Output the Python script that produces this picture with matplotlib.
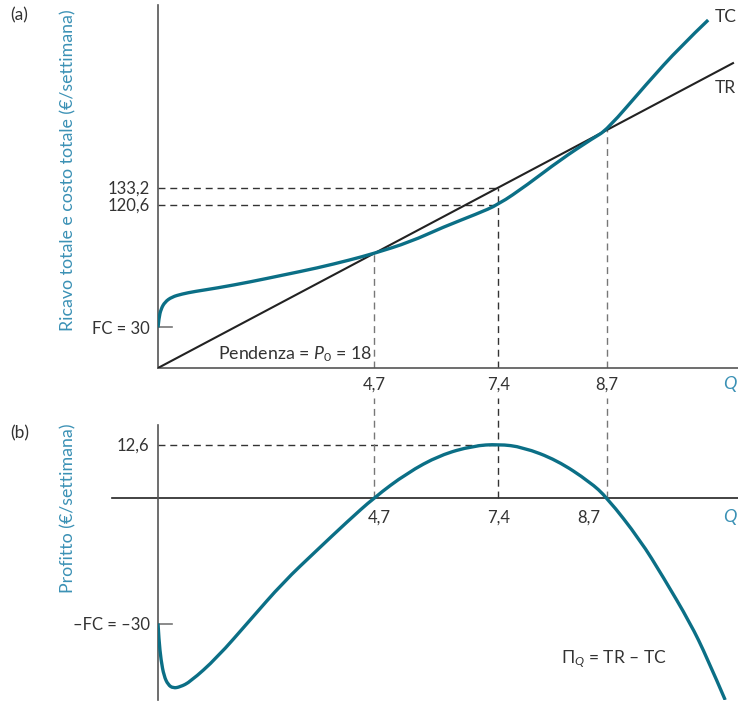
import numpy as np
import matplotlib.pyplot as plt
from matplotlib.path import Path
from matplotlib.patches import PathPatch

plt.rcParams['font.family'] = ['Lato', 'DejaVu Sans']
plt.rcParams['mathtext.fontset'] = 'custom'
plt.rcParams['mathtext.rm'] = 'Lato'
plt.rcParams['mathtext.it'] = 'Lato:italic'

# valori (il disegno non e' in scala: "8,7" sta dove TR = TC)
q_tc = [0, 0.02, 0.065, 0.15, 0.30, 0.52, 0.80, 1.28, 2.0, 2.72, 3.46, 4.17, 4.70,
        5.48, 6.20, 6.93, 7.40, 8.02, 8.74, 9.46, 9.76, 10.63, 11.35, 11.96]
tc = [30, 36.9, 43.5, 48.7, 52.4, 54.6, 56.5, 59.0, 63.5, 68.6, 73.8, 79.7, 84.6,
      93, 104, 113.7, 120.6, 135, 153.5, 169.7, 175.7, 210, 237, 256.8]
q_tr = [0, 12.5]
price = 18

q_pi = [0, 0.02, 0.065, 0.13, 0.22, 0.33, 0.48, 0.70, 1.28, 2.0, 2.72, 3.46, 4.11, 4.70,
        5.41, 6.13, 6.85, 7.40, 7.93, 8.67, 9.39, 9.76, 10.48, 10.98, 11.57, 11.93, 12.33]
profit = [-30, -33.9, -38.7, -42.5, -44.6, -45.4, -45.1, -43.9, -38.2, -29.2, -20.2,
          -12.5, -5.8, 0, 5.8, 10.1, 12.3, 12.7, 12.0, 8.9, 3.7, 0, -10.1, -18.9, -29.9,
          -38, -48.2]

q_marks = [4.7, 7.4, 9.76]
q_labels = ['4,7', '7,4', '8,7']
tr_max, tc_max, fc = 133.2, 120.6, 30
pi_max = 12.6

teal = '#0b6f86'
lab = '#3b91b5'
txt = '#333333'
grey = '#777777'
dash = (0, (5, 3.5))


def smooth_line(ax, x, y, **kw):
    # curva di Bezier quadratica che passa per i punti medi
    pts = np.column_stack([x, y])
    verts = [pts[0]]
    codes = [Path.MOVETO]
    n = len(pts)
    for i in range(1, n - 1):
        end = pts[i + 1] if i == n - 2 else (pts[i] + pts[i + 1]) / 2
        verts += [pts[i], end]
        codes += [Path.CURVE3, Path.CURVE3]
    ax.add_patch(PathPatch(Path(verts, codes), fill=False, **kw))


fig = plt.figure(figsize=(7.38, 7.01), dpi=100)
W, H = 738, 701
ax1 = fig.add_axes([158 / W, 1 - 368 / H, 580 / W, 363 / H])
ax2 = fig.add_axes([158 / W, 1 - 700 / H, 580 / W, 275 / H])

# ---- (a) ricavo e costo totale
tr = [price * q for q in q_tr]
ax1.plot(q_tr, tr, color='#222222', lw=1.5, zorder=3)
smooth_line(ax1, q_tc, tc, color=teal, lw=2.4, zorder=4, capstyle='butt')
ax1.set_xlim(0, 580 / 46)
ax1.set_ylim(0, 363 / 1.355)

ax1.plot([0, 7.4], [tr_max, tr_max], ls=dash, color='#333333', lw=1)
ax1.plot([0, 7.4], [tc_max, tc_max], ls=dash, color='#333333', lw=1)
ax1.plot([0, 0.3], [fc, fc], color=grey, lw=1.2)
ax1.plot([4.7, 4.7], [0, price * 4.7], ls=dash, color=grey, lw=1)
ax1.plot([7.4, 7.4], [0, tr_max], ls=dash, color='#333333', lw=1)
ax1.plot([9.76, 9.76], [0, price * 9.76], ls=dash, color=grey, lw=1)

ax1.set_xticks(q_marks)
ax1.set_xticklabels(q_labels)
ax1.set_yticks([fc, tc_max, tr_max])
ax1.set_yticklabels(['FC = 30', '120,6', '133,2'])
ax1.tick_params(length=0, labelsize=12, colors=txt, pad=6)
for s in ['top', 'right']:
    ax1.spines[s].set_visible(False)
for s in ['left', 'bottom']:
    ax1.spines[s].set_color('#555555')
    ax1.spines[s].set_linewidth(1.2)

ax1.text(12.42, -11.5, 'Q', style='italic', color=lab, fontsize=13, ha='center', va='center')
ax1.text(12.1, 259, 'TC', color=txt, fontsize=12.5, ha='left', va='center')
ax1.text(12.1, 207, 'TR', color=txt, fontsize=12.5, ha='left', va='center')
ax1.text(4.65, 10, r'Pendenza = $P_0$ = 18', color=txt, fontsize=12.8, ha='right', va='center')
fig.text(68 / W, 1 - 170 / H, 'Ricavo totale e costo totale (€/settimana)', rotation=90,
         color=lab, fontsize=12.8, ha='center', va='center')
fig.text(10 / W, 1 - 15 / H, '(a)', color=txt, fontsize=12.5, ha='left', va='center')

# ---- (b) profitto
smooth_line(ax2, q_pi, profit, color=teal, lw=2.4, zorder=4, capstyle='butt')
ax2.set_xlim(0, 580 / 46)
ax2.set_ylim(-202.5 / 4.2, 72.5 / 4.2)
ax2.plot([-1.0, 580 / 46], [0, 0], color='#222222', lw=1.2, clip_on=False)
ax2.plot([0, 0.3], [-fc, -fc], color=grey, lw=1.2)
ax2.plot([0, 7.4], [pi_max, pi_max], ls=dash, color='#333333', lw=1)
for q, c in zip(q_marks, [grey, '#333333', grey]):
    ax2.plot([q, q], [0, 23.7], ls=dash, color=c, lw=1, clip_on=False)

ax2.set_xticks([])
ax2.set_yticks([-fc, pi_max])
ax2.set_yticklabels(['–FC = –30', '12,6'])
ax2.tick_params(length=0, labelsize=12, colors=txt, pad=6)
for s in ['top', 'right', 'bottom']:
    ax2.spines[s].set_visible(False)
ax2.spines['left'].set_color('#555555')
ax2.spines['left'].set_linewidth(1.2)

for q, s, dx in zip(q_marks, q_labels, [0.12, 0, -0.4]):
    ax2.text(q + dx, -4.7, s, color=txt, fontsize=12, ha='center', va='center')
ax2.text(12.42, -4.7, 'Q', style='italic', color=lab, fontsize=13, ha='center', va='center')
ax2.text(9.9, -38.5, r'$\Pi_Q$ = TR – TC', color=txt, fontsize=12.5, ha='center', va='center')
fig.text(68 / W, 1 - 508 / H, 'Profitto (€/settimana)', rotation=90,
         color=lab, fontsize=12.8, ha='center', va='center')
fig.text(10 / W, 1 - 433 / H, '(b)', color=txt, fontsize=12.5, ha='left', va='center')

fig.savefig('out.png', dpi=100)
